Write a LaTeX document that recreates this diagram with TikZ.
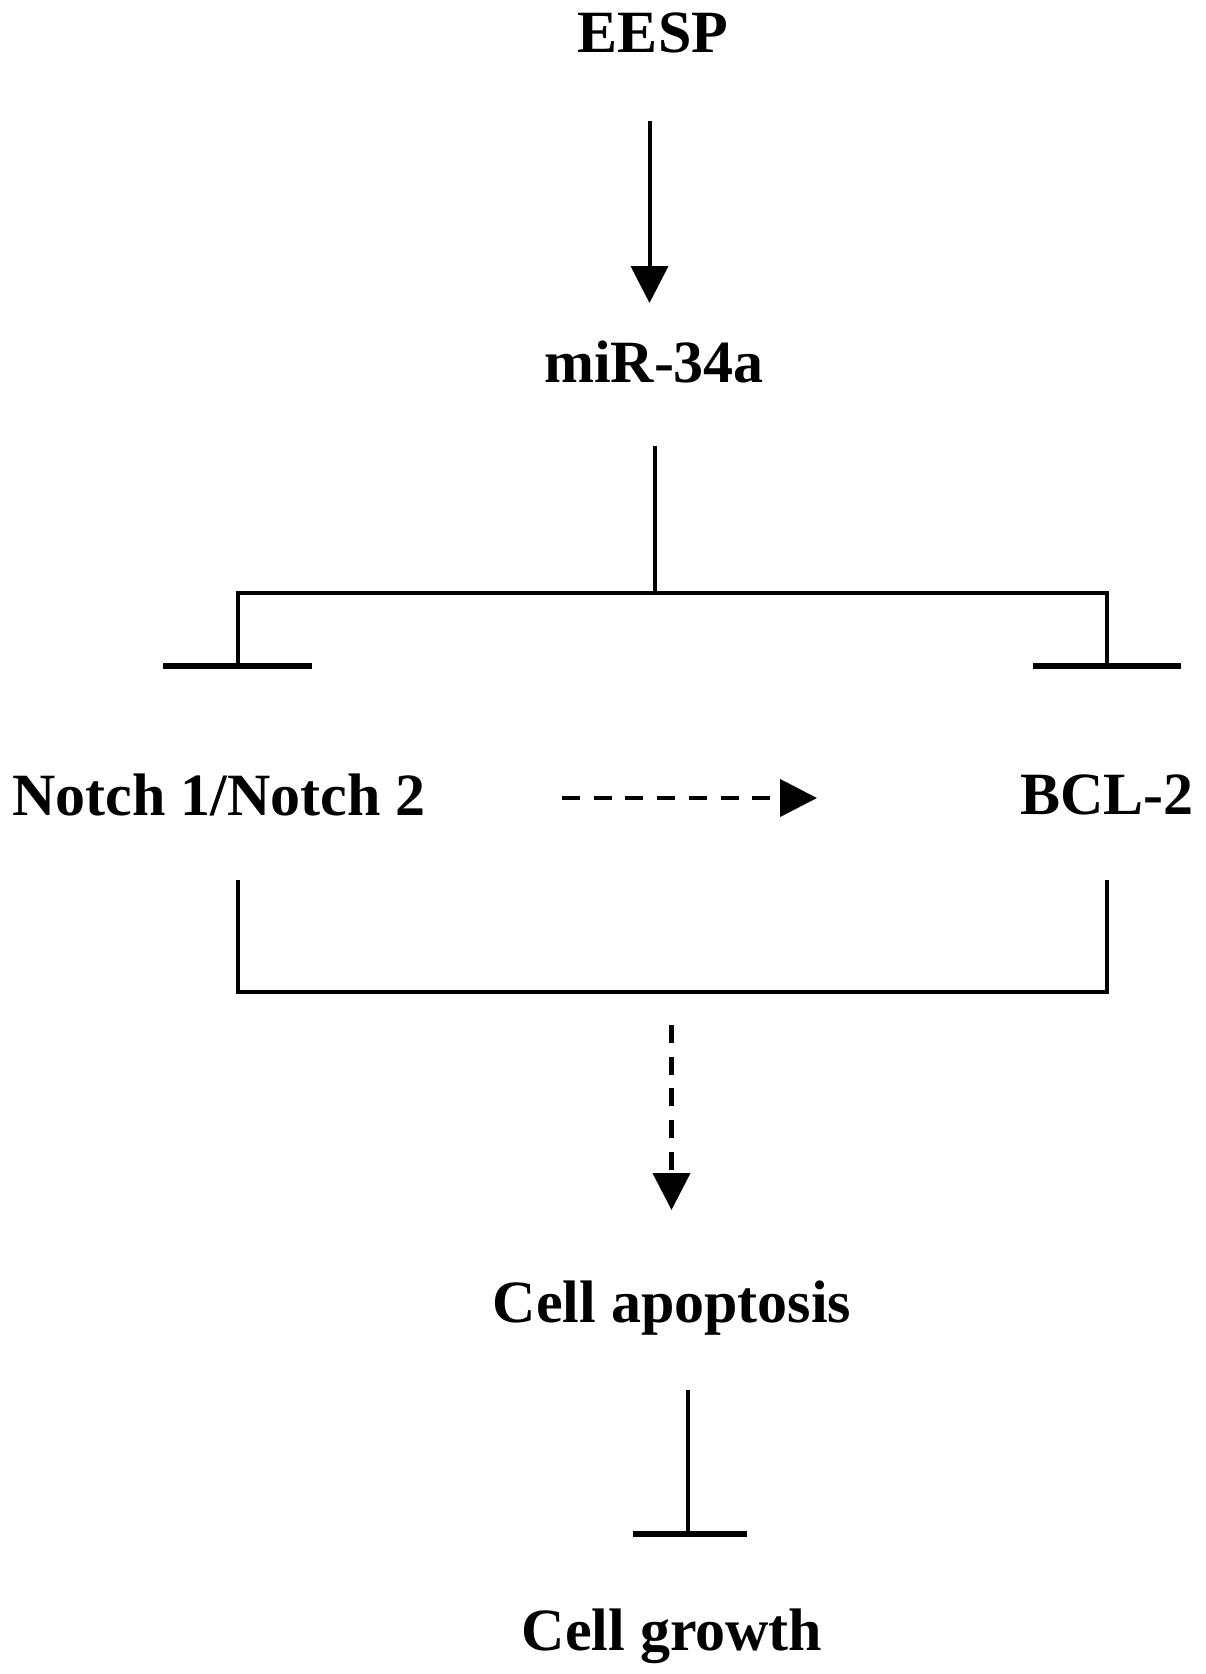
\documentclass[tikz,border=0pt]{standalone}
\usepackage{fontspec}
\setmainfont{Liberation Serif}
\usetikzlibrary{arrows.meta}
\begin{document}
\begin{tikzpicture}[x=1bp,y=-1bp,
  lbl/.style={font=\fontsize{60bp}{70bp}\selectfont\bfseries, inner sep=0pt, anchor=base},
  conn/.style={line width=4bp},
  tbar/.style={line width=5.5bp},
  act/.style={conn, -{Triangle[width=37bp,length=37bp]}},
  dact/.style={line width=4.2bp, dash pattern=on 18bp off 13.7bp, -{Triangle[width=37bp,length=37bp]}}]
\useasboundingbox (0,0) rectangle (1205,1674);
% text nodes
\node[lbl] (eesp) at (653,53) {EESP};
\node[lbl] (mir) at (654,382) {miR-34a};
\node[lbl] (notch) at (219,815) {Notch 1/Notch 2};
\node[lbl] (bcl) at (1107,814) {BCL-2};
\node[lbl] (apo) at (672,1322) {Cell apoptosis};
\node[lbl] (grow) at (672,1650) {Cell growth};
% coordinates
\coordinate (a1s) at (649.5,121);
\coordinate (a1e) at (649.5,303);
\coordinate (ms) at (655,446);
\coordinate (mj) at (655,593);
\coordinate (lj) at (237.5,593);
\coordinate (rj) at (1107,593);
\coordinate (lt) at (237.5,666);
\coordinate (rt) at (1107,666);
\coordinate (ltl) at (163,666);
\coordinate (ltr) at (312,666);
\coordinate (rtl) at (1033,666);
\coordinate (rtr) at (1181,666);
\coordinate (hs) at (562,798);
\coordinate (he) at (817,798);
\coordinate (nb) at (237.5,880);
\coordinate (bb) at (1107,880);
\coordinate (nbc) at (237.5,992);
\coordinate (bbc) at (1107,992);
\coordinate (ds) at (671.5,1025);
\coordinate (de) at (671.5,1210);
\coordinate (as) at (688,1390);
\coordinate (ae) at (688,1534);
\coordinate (atl) at (633,1534);
\coordinate (atr) at (747,1534);
% connectors
\draw[act] (a1s) -- (a1e);
\draw[conn] (ms) -- (mj);
\draw[conn] (lt) -- (lj) -- (rj) -- (rt);
\draw[tbar] (ltl) -- (ltr);
\draw[tbar] (rtl) -- (rtr);
\draw[dact] (hs) -- (he);
\draw[conn] (nb) -- (nbc) -- (bbc) -- (bb);
\draw[dact] (ds) -- (de);
\draw[conn] (as) -- (ae);
\draw[tbar] (atl) -- (atr);
\end{tikzpicture}
\end{document}
